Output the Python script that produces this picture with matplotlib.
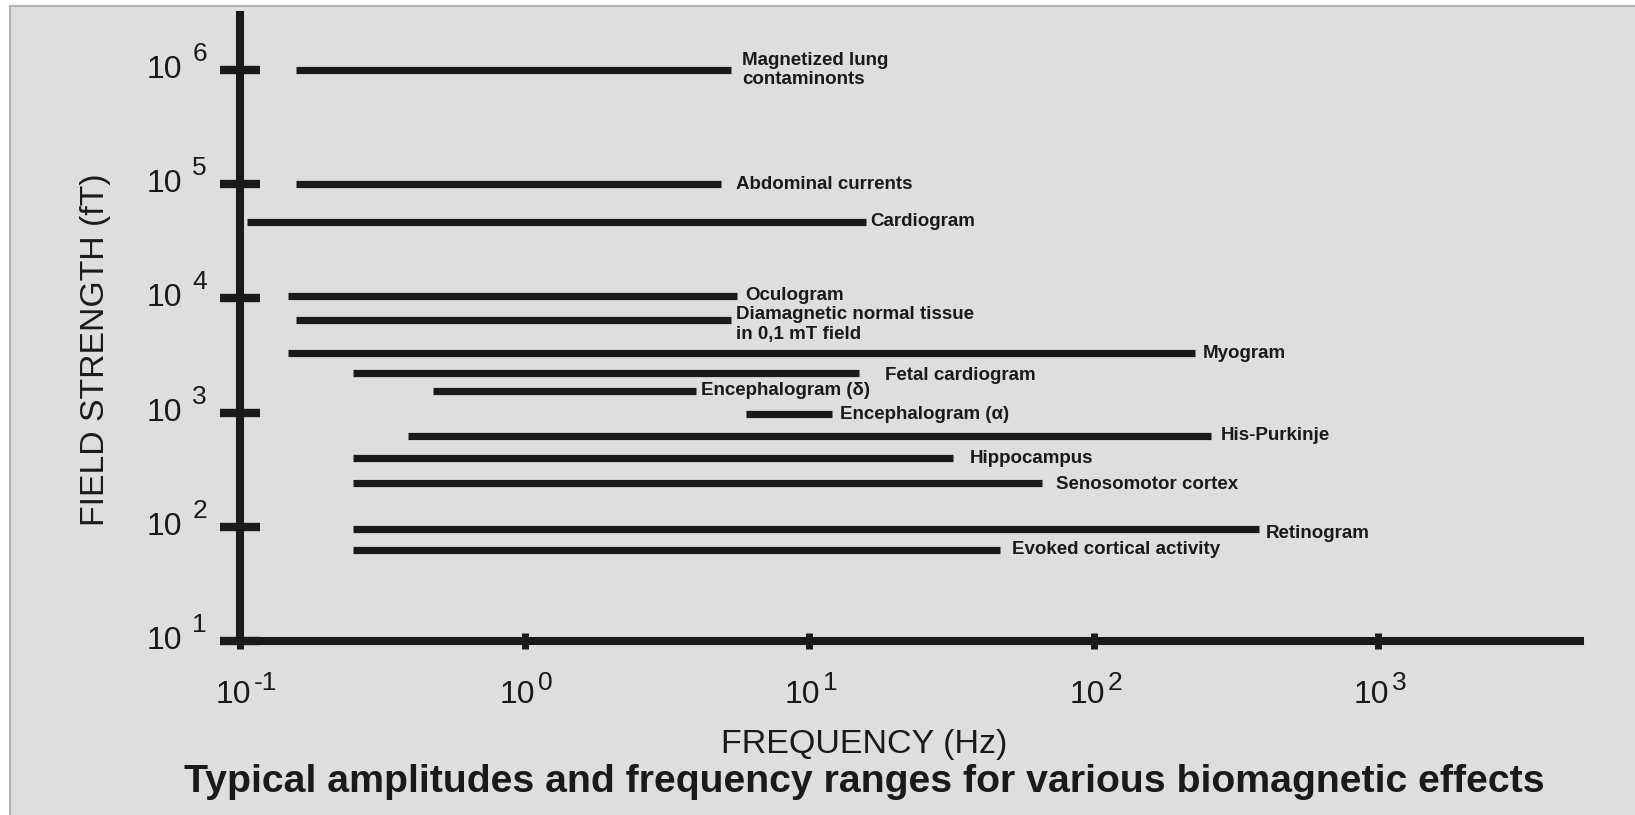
import matplotlib
matplotlib.use('Agg')
import matplotlib.pyplot as plt
from matplotlib.patches import Rectangle
from matplotlib.transforms import blended_transform_factory
from matplotlib.ticker import NullLocator

plt.rcParams['font.family'] = ['Liberation Sans', 'DejaVu Sans']

# typical biomagnetic effects: frequency range (Hz) and field strength (fT)
effects = ['Magnetized lung\ncontaminonts', 'Abdominal currents', 'Cardiogram', 'Oculogram',
           'Diamagnetic normal tissue\nin 0,1 mT field', 'Myogram', 'Fetal cardiogram',
           'Encephalogram (δ)', 'Encephalogram (α)', 'His-Purkinje', 'Hippocampus',
           'Senosomotor cortex', 'Retinogram', 'Evoked cortical activity']
freq_low = [0.157, 0.157, 0.106, 0.147, 0.157, 0.147, 0.25, 0.475, 6.0, 0.39, 0.25, 0.25, 0.25, 0.25]
freq_high = [5.3, 4.9, 15.8, 5.6, 5.3, 227, 15, 4.0, 12, 258, 32, 66, 380, 47]
field = [1e6, 1e5, 4.7e4, 1.05e4, 6.5e3, 3.3e3, 2.2e3, 1.55e3, 970, 630, 400, 243, 95, 63]

x_exponents = [-1, 0, 1, 2, 3]
y_exponents = [1, 2, 3, 4, 5, 6]

# where each name sits next to the right end of its bar (points)
label_dx = [8.4, 10.6, 3.2, 5.8, 3.9, 5.5, 18.4, 3.5, 5.8, 7, 11.9, 9.6, 5.4, 8.7]
label_dy = [0, 0, 0, 0, -3.6, 0, -1.5, 0, 0, 0, 0, -1.5, -3, 0]

ink = '#1a1a1a'

fig = plt.figure(figsize=(16.35, 8.15), dpi=100, facecolor='white')
fig.patches.append(Rectangle((10 / 1635, -0.01), 1.0, 1.01 - 6 / 815, transform=fig.transFigure,
                             facecolor='#dedede', edgecolor='#b5b5b5', lw=1.5, zorder=-10))

ax = fig.add_axes([0.1468, 0.2135, 0.8193, 0.7681])
ax.patch.set_visible(False)
ax.set_xscale('log')
ax.set_yscale('log')
ax.set_xlim(0.1, 5100)
ax.set_ylim(10, 3.03e6)

ax.hlines(field, freq_low, freq_high, colors=ink, lw=5.2)
for name, x1, y, dx, dy in zip(effects, freq_high, field, label_dx, label_dy):
    ax.annotate(name, xy=(x1, y), xytext=(dx, dy), textcoords='offset points',
                ha='left', va='center', fontsize=13.5, fontweight='bold', color=ink)

for side in ['top', 'right']:
    ax.spines[side].set_visible(False)
for side in ['left', 'bottom']:
    ax.spines[side].set_linewidth(5.8)
    ax.spines[side].set_color(ink)

ax.set_xticks([10.0 ** e for e in x_exponents])
ax.set_yticks([10.0 ** e for e in y_exponents])
ax.xaxis.set_minor_locator(NullLocator())
ax.yaxis.set_minor_locator(NullLocator())
ax.tick_params(axis='y', direction='inout', length=29, width=6, color=ink, labelleft=False)
ax.tick_params(axis='x', direction='inout', length=12, width=5, color=ink, labelbottom=False)

# tick labels written as "10" with a raised exponent
ytr = blended_transform_factory(ax.transAxes, ax.transData)
for e in y_exponents:
    ax.annotate('10', xy=(0, 10.0 ** e), xycoords=ytr, xytext=(-41.8, -5.8), textcoords='offset points',
                ha='right', va='baseline', fontsize=23, color=ink)
    ax.annotate(str(e), xy=(0, 10.0 ** e), xycoords=ytr, xytext=(-23.8, 6.5), textcoords='offset points',
                ha='right', va='baseline', fontsize=19, color=ink)

xtr = blended_transform_factory(ax.transData, ax.transAxes)
for e in x_exponents:
    ax.annotate('10', xy=(10.0 ** e, 0), xycoords=xtr, xytext=(7.9, -44.6), textcoords='offset points',
                ha='right', va='baseline', fontsize=23, color=ink)
    ax.annotate(str(e), xy=(10.0 ** e, 0), xycoords=xtr, xytext=(10, -35.3), textcoords='offset points',
                ha='left', va='baseline', fontsize=19, color=ink)

fig.text(0.0587, 0.5706, 'FIELD STRENGTH (fT)', rotation=90, ha='center', va='center',
         fontsize=24.3, color=ink)
fig.text(0.5284, 0.0761, 'FREQUENCY (Hz)', ha='center', va='baseline', fontsize=24.5, color=ink)
fig.text(0.5284, 0.0282, 'Typical amplitudes and frequency ranges for various biomagnetic effects',
         ha='center', va='baseline', fontsize=28.3, fontweight='bold', color=ink)

fig.savefig('out.png', dpi=100)
